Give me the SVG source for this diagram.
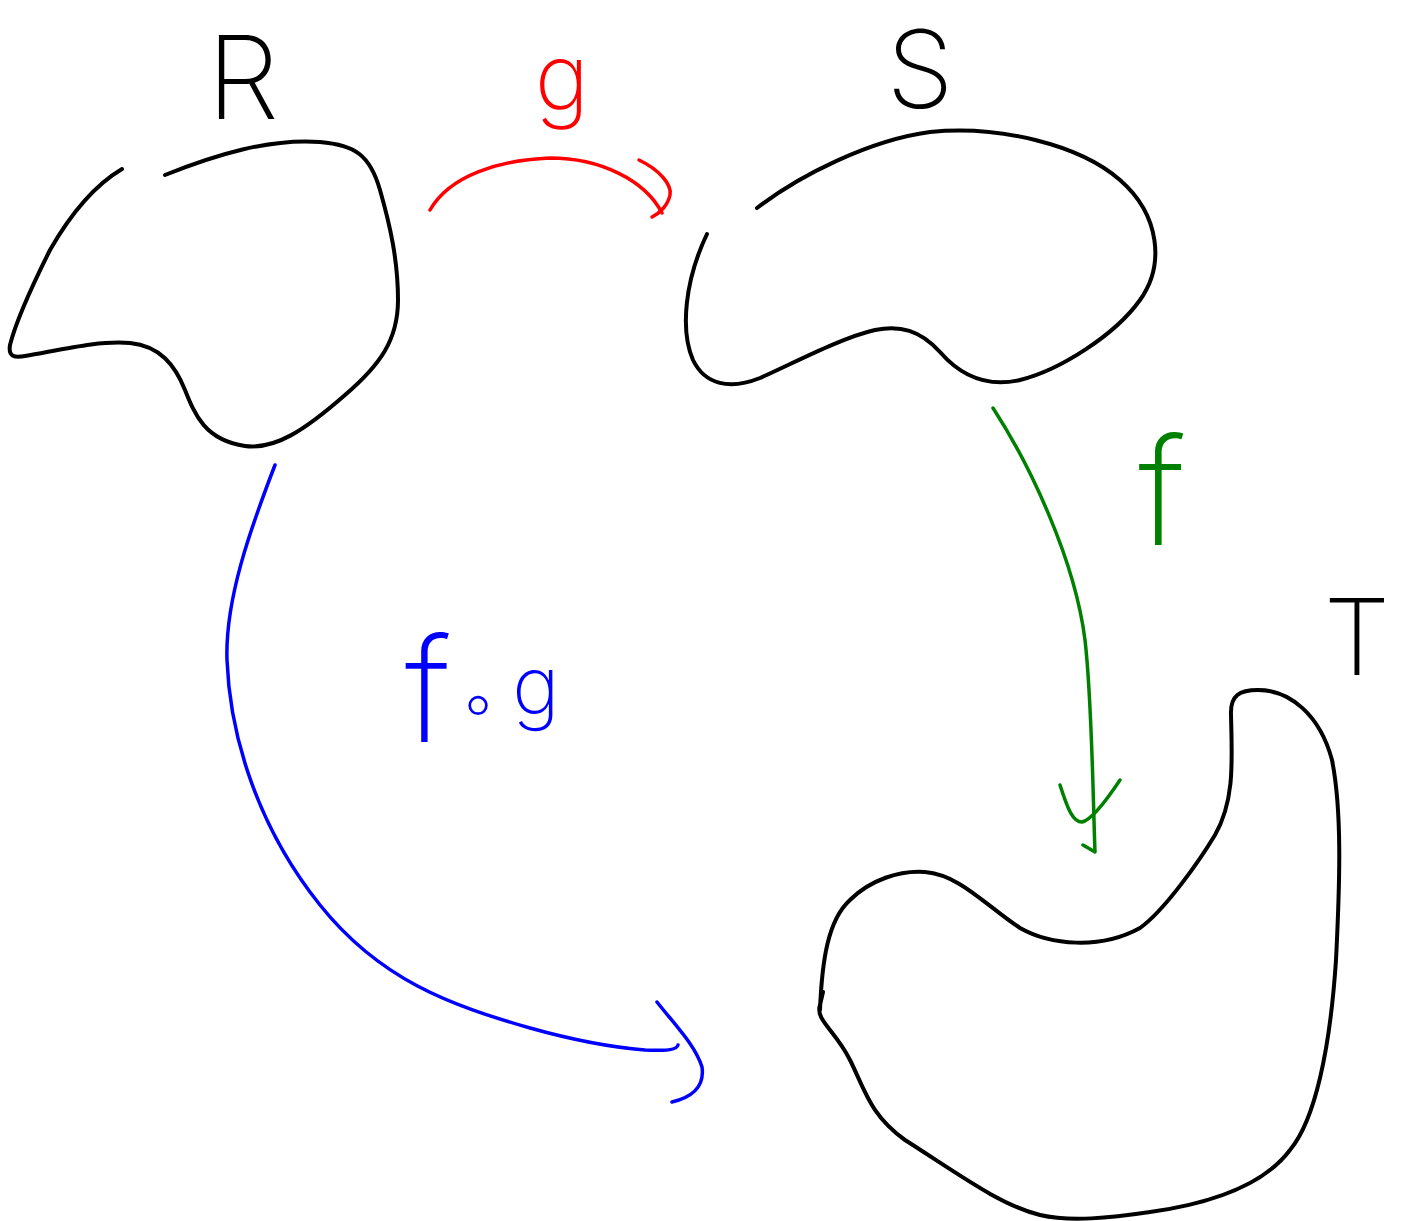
<svg xmlns="http://www.w3.org/2000/svg" width="1410" height="1221" viewBox="0 0 1410 1221">
<style>
.blob{fill:none;stroke:#000;stroke-width:4;stroke-linecap:round;stroke-linejoin:round}
.arr{fill:none;stroke-width:3.5;stroke-linecap:round;stroke-linejoin:round}
.lbl{font-family:Inter,Lato,"Open Sans","DejaVu Sans",sans-serif;font-weight:150;text-anchor:middle}
</style>
<rect width="1410" height="1221" fill="#fff"/>
<g id="node-R">
<path class="blob" d="M122,169 C95,185 70,215 50,250 C30,290 15,325 10,345 C8,357 15,358 25,356 C60,350 100,340 130,343 C160,346 175,365 185,390 C195,415 205,440 245,446 C275,450 305,430 345,395 C380,365 398,340 398,300 C398,260 390,225 380,190 C370,155 355,145 320,142 C270,138 215,155 165,175"/>
<text class="lbl" x="243" y="119" font-size="116" fill="#000">R</text>
</g>
<g id="node-S">
<path class="blob" d="M757,208 C800,175 870,140 930,132 C1000,125 1080,145 1120,180 C1160,215 1165,265 1140,300 C1115,335 1060,370 1020,380 C985,388 960,375 940,352 C920,330 900,325 875,330 C840,338 790,365 760,378 C730,390 705,385 693,360 C680,330 685,280 707,234"/>
<text class="lbl" x="920" y="108" font-size="108" fill="#000">S</text>
</g>
<g id="node-T">
<path class="blob" d="M820,1010 C822,960 828,920 850,900 C870,880 900,870 925,872 C960,875 985,905 1020,928 C1050,945 1100,950 1140,928 C1165,910 1200,860 1215,835 C1235,800 1232,760 1231,715 C1230,695 1240,690 1258,690 C1290,690 1320,715 1332,760 C1342,810 1340,880 1336,960 C1330,1050 1315,1120 1290,1150 C1260,1190 1200,1205 1150,1212 C1110,1218 1070,1222 1040,1215 C1000,1205 960,1175 905,1140 C870,1115 865,1090 850,1060 C835,1030 815,1020 820,1005 L823,992"/>
<text class="lbl" x="1357" y="675" font-size="106" fill="#000">T</text>
</g>
<g id="connectors">
<g id="edge-g">
<path class="arr" stroke="#ff0000" d="M430,210 C450,175 500,160 550,158 C600,158 645,180 662,213"/>
<path class="arr" stroke="#ff0000" d="M639,160 C660,170 672,185 670,195 C668,205 660,213 652,217"/>
<text class="lbl" x="562" y="110" font-size="92" fill="#ff0000">g</text>
</g>
<g id="edge-f">
<path class="arr" stroke="#008000" d="M993,408 C1030,465 1075,560 1085,640 C1092,700 1093,800 1095,852 L1083,845"/>
<path class="arr" stroke="#008000" d="M1060,785 C1068,810 1073,822 1082,822 C1092,820 1110,795 1120,780"/>
<text class="lbl" x="1162" y="545" font-size="148" fill="#008000">f</text>
</g>
<g id="edge-fg">
<path class="arr" stroke="#0000ff" d="M275,465 C250,530 225,600 227,660 C230,740 260,830 320,905 C380,980 450,1005 530,1028 C580,1042 620,1048 645,1050 C665,1051 677,1050 678,1045"/>
<path class="arr" stroke="#0000ff" d="M657,1002 C675,1025 695,1045 702,1067 C705,1088 690,1098 672,1102"/>
<text class="lbl" font-size="145" fill="#0000ff"><tspan x="428" y="742">f</tspan><tspan x="478" y="728" font-size="72">∘</tspan><tspan x="536" y="714" font-size="80">g</tspan></text>
</g>
</g>
</svg>
